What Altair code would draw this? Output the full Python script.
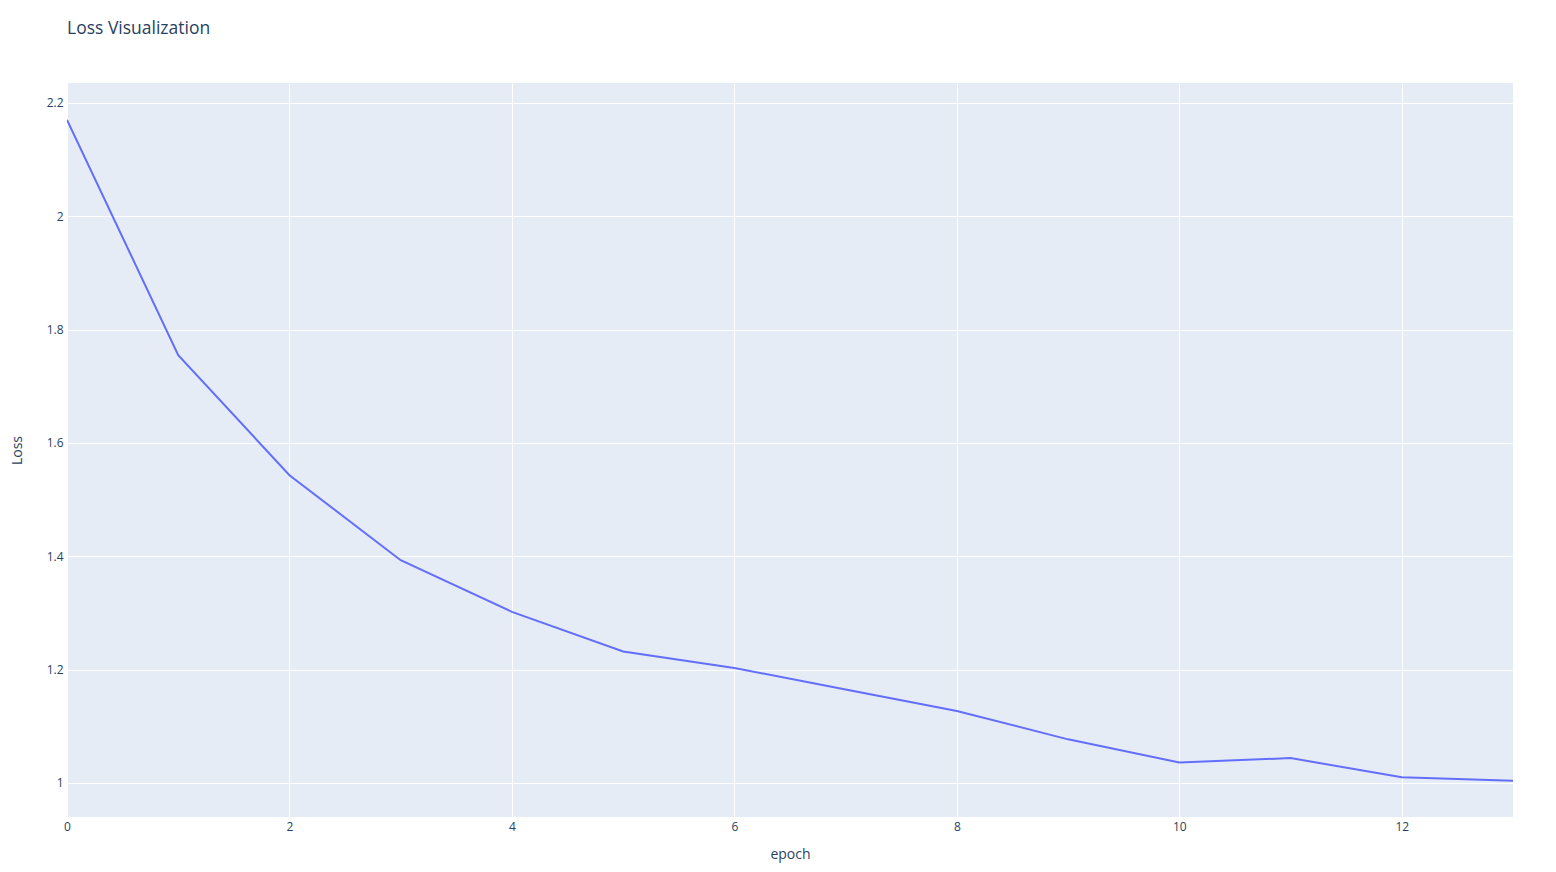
import altair as alt
import pandas as pd

epochs = [0, 1, 2, 3, 4, 5, 6, 7, 8, 9, 10, 11, 12, 13]
loss = [2.170, 1.755, 1.543, 1.393, 1.302, 1.232, 1.203, 1.165, 1.127, 1.077, 1.036, 1.044, 1.010, 1.004]

x_ticks = [0, 2, 4, 6, 8, 10, 12]
y_ticks = [1.0, 1.2, 1.4, 1.6, 1.8, 2.0, 2.2]

df = pd.DataFrame({"epoch": epochs, "Loss": loss})

FONT = "Open Sans"
TXT = "#2a3f5f"

chart = (
    alt.Chart(df)
    .mark_line(color="#636efa", strokeWidth=2, clip=True)
    .encode(
        x=alt.X(
            "epoch:Q",
            scale=alt.Scale(domain=[0, 13], nice=False, zero=False),
            axis=alt.Axis(
                values=x_ticks, format="~g", title="epoch", grid=True,
                gridColor="white", gridWidth=1, domain=False, ticks=False,
                labelFlush=False, labelOverlap=False,
                labelPadding=4, labelFontSize=12, labelColor=TXT, labelFont=FONT,
                titleFont=FONT, titleFontSize=14, titleColor=TXT, titleFontWeight="normal",
                titlePadding=15,
            ),
        ),
        y=alt.Y(
            "Loss:Q",
            scale=alt.Scale(domain=[0.94, 2.235], nice=False, zero=False),
            axis=alt.Axis(
                values=y_ticks, format="~g", title="Loss", grid=True,
                gridColor="white", gridWidth=1, domain=False, ticks=False,
                labelFlush=False, labelOverlap=False,
                labelPadding=4, labelFontSize=12, labelColor=TXT, labelFont=FONT,
                titleFont=FONT, titleFontSize=14, titleColor=TXT, titleFontWeight="normal",
                titleX=-50, titleY=367, titleAngle=270, titleBaseline="middle", titleAlign="center",
            ),
        ),
    )
    .properties(
        width=1446,
        height=734,
        title=alt.TitleParams(
            "Loss Visualization", anchor="start", frame="group", font=FONT, fontSize=17.5,
            color=TXT, fontWeight="normal", offset=46,
        ),
        autosize=alt.AutoSizeParams(type="none"),
        padding={"left": 59, "top": 75, "right": 35, "bottom": 46},
        background="white",
    )
    .configure_view(fill="#E5ECF6", stroke=None)
)

chart.save("out.html", embed_options={"renderer": "svg", "actions": False})
